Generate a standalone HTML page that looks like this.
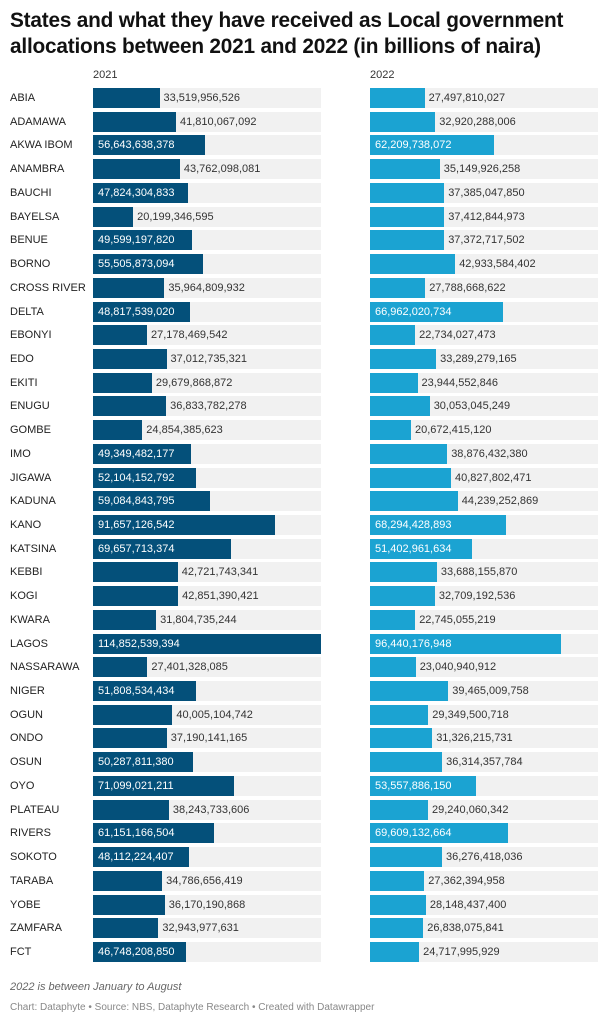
<!DOCTYPE html>
<html><head><meta charset="utf-8"><style>
*{margin:0;padding:0;box-sizing:border-box}
body{width:614px;height:1024px;background:#fff;font-family:"Liberation Sans",sans-serif;position:relative;overflow:hidden;color:#333}
h1{position:absolute;left:10px;top:8px;font-size:20.8px;line-height:26px;color:#111;font-weight:bold;letter-spacing:-0.2px}
.yr{position:absolute;top:69px;font-size:11px;color:#333}
.r{position:absolute;left:0;height:20px;width:614px}
.l{position:absolute;left:10px;top:4px;font-size:11px;color:#222}
.c{position:absolute;top:0;height:20px;width:228px;background:#f1f1f1;display:flex;align-items:center}
.c1{left:93px}.c2{left:370px}
.b{height:20px;display:flex;align-items:center;flex:none}
.c1 .b{background:#04507a}.c2 .b{background:#1ba3d2}
.c span{font-size:11px;color:#333;margin-left:4px;white-space:nowrap}
.b span{color:#fff!important;margin-left:5px!important}
.f1{position:absolute;left:10px;top:981px;font-size:11px;font-style:italic;color:#666}
.f2{position:absolute;left:10px;top:1002px;font-size:10px;color:#888}
</style></head><body>
<h1>States and what they have received as Local government<br>allocations between 2021 and 2022 (in billions of naira)</h1>
<div class="yr" style="left:93px">2021</div>
<div class="yr" style="left:370px">2022</div>

<div class="r" style="top:88px"><div class="l">ABIA</div><div class="c c1"><div class="b" style="width:66.5px"></div><span>33,519,956,526</span></div><div class="c c2"><div class="b" style="width:54.6px"></div><span>27,497,810,027</span></div></div>
<div class="r" style="top:111.7px"><div class="l">ADAMAWA</div><div class="c c1"><div class="b" style="width:83px"></div><span>41,810,067,092</span></div><div class="c c2"><div class="b" style="width:65.3px"></div><span>32,920,288,006</span></div></div>
<div class="r" style="top:135.4px"><div class="l">AKWA IBOM</div><div class="c c1"><div class="b" style="width:112.4px"><span>56,643,638,378</span></div></div><div class="c c2"><div class="b" style="width:123.5px"><span>62,209,738,072</span></div></div></div>
<div class="r" style="top:159.2px"><div class="l">ANAMBRA</div><div class="c c1"><div class="b" style="width:86.9px"></div><span>43,762,098,081</span></div><div class="c c2"><div class="b" style="width:69.8px"></div><span>35,149,926,258</span></div></div>
<div class="r" style="top:182.9px"><div class="l">BAUCHI</div><div class="c c1"><div class="b" style="width:94.9px"><span>47,824,304,833</span></div></div><div class="c c2"><div class="b" style="width:74.2px"></div><span>37,385,047,850</span></div></div>
<div class="r" style="top:206.6px"><div class="l">BAYELSA</div><div class="c c1"><div class="b" style="width:40.1px"></div><span>20,199,346,595</span></div><div class="c c2"><div class="b" style="width:74.3px"></div><span>37,412,844,973</span></div></div>
<div class="r" style="top:230.3px"><div class="l">BENUE</div><div class="c c1"><div class="b" style="width:98.5px"><span>49,599,197,820</span></div></div><div class="c c2"><div class="b" style="width:74.2px"></div><span>37,372,717,502</span></div></div>
<div class="r" style="top:254px"><div class="l">BORNO</div><div class="c c1"><div class="b" style="width:110.2px"><span>55,505,873,094</span></div></div><div class="c c2"><div class="b" style="width:85.2px"></div><span>42,933,584,402</span></div></div>
<div class="r" style="top:277.8px"><div class="l">CROSS RIVER</div><div class="c c1"><div class="b" style="width:71.4px"></div><span>35,964,809,932</span></div><div class="c c2"><div class="b" style="width:55.2px"></div><span>27,788,668,622</span></div></div>
<div class="r" style="top:301.5px"><div class="l">DELTA</div><div class="c c1"><div class="b" style="width:96.9px"><span>48,817,539,020</span></div></div><div class="c c2"><div class="b" style="width:132.9px"><span>66,962,020,734</span></div></div></div>
<div class="r" style="top:325.2px"><div class="l">EBONYI</div><div class="c c1"><div class="b" style="width:54px"></div><span>27,178,469,542</span></div><div class="c c2"><div class="b" style="width:45.1px"></div><span>22,734,027,473</span></div></div>
<div class="r" style="top:348.9px"><div class="l">EDO</div><div class="c c1"><div class="b" style="width:73.5px"></div><span>37,012,735,321</span></div><div class="c c2"><div class="b" style="width:66.1px"></div><span>33,289,279,165</span></div></div>
<div class="r" style="top:372.6px"><div class="l">EKITI</div><div class="c c1"><div class="b" style="width:58.9px"></div><span>29,679,868,872</span></div><div class="c c2"><div class="b" style="width:47.5px"></div><span>23,944,552,846</span></div></div>
<div class="r" style="top:396.4px"><div class="l">ENUGU</div><div class="c c1"><div class="b" style="width:73.1px"></div><span>36,833,782,278</span></div><div class="c c2"><div class="b" style="width:59.7px"></div><span>30,053,045,249</span></div></div>
<div class="r" style="top:420.1px"><div class="l">GOMBE</div><div class="c c1"><div class="b" style="width:49.3px"></div><span>24,854,385,623</span></div><div class="c c2"><div class="b" style="width:41px"></div><span>20,672,415,120</span></div></div>
<div class="r" style="top:443.8px"><div class="l">IMO</div><div class="c c1"><div class="b" style="width:98px"><span>49,349,482,177</span></div></div><div class="c c2"><div class="b" style="width:77.2px"></div><span>38,876,432,380</span></div></div>
<div class="r" style="top:467.5px"><div class="l">JIGAWA</div><div class="c c1"><div class="b" style="width:103.4px"><span>52,104,152,792</span></div></div><div class="c c2"><div class="b" style="width:81px"></div><span>40,827,802,471</span></div></div>
<div class="r" style="top:491.2px"><div class="l">KADUNA</div><div class="c c1"><div class="b" style="width:117.3px"><span>59,084,843,795</span></div></div><div class="c c2"><div class="b" style="width:87.8px"></div><span>44,239,252,869</span></div></div>
<div class="r" style="top:515px"><div class="l">KANO</div><div class="c c1"><div class="b" style="width:181.9px"><span>91,657,126,542</span></div></div><div class="c c2"><div class="b" style="width:135.6px"><span>68,294,428,893</span></div></div></div>
<div class="r" style="top:538.7px"><div class="l">KATSINA</div><div class="c c1"><div class="b" style="width:138.3px"><span>69,657,713,374</span></div></div><div class="c c2"><div class="b" style="width:102px"><span>51,402,961,634</span></div></div></div>
<div class="r" style="top:562.4px"><div class="l">KEBBI</div><div class="c c1"><div class="b" style="width:84.8px"></div><span>42,721,743,341</span></div><div class="c c2"><div class="b" style="width:66.9px"></div><span>33,688,155,870</span></div></div>
<div class="r" style="top:586.1px"><div class="l">KOGI</div><div class="c c1"><div class="b" style="width:85.1px"></div><span>42,851,390,421</span></div><div class="c c2"><div class="b" style="width:64.9px"></div><span>32,709,192,536</span></div></div>
<div class="r" style="top:609.8px"><div class="l">KWARA</div><div class="c c1"><div class="b" style="width:63.1px"></div><span>31,804,735,244</span></div><div class="c c2"><div class="b" style="width:45.2px"></div><span>22,745,055,219</span></div></div>
<div class="r" style="top:633.6px"><div class="l">LAGOS</div><div class="c c1"><div class="b" style="width:228px"><span>114,852,539,394</span></div></div><div class="c c2"><div class="b" style="width:191.4px"><span>96,440,176,948</span></div></div></div>
<div class="r" style="top:657.3px"><div class="l">NASSARAWA</div><div class="c c1"><div class="b" style="width:54.4px"></div><span>27,401,328,085</span></div><div class="c c2"><div class="b" style="width:45.7px"></div><span>23,040,940,912</span></div></div>
<div class="r" style="top:681px"><div class="l">NIGER</div><div class="c c1"><div class="b" style="width:102.8px"><span>51,808,534,434</span></div></div><div class="c c2"><div class="b" style="width:78.3px"></div><span>39,465,009,758</span></div></div>
<div class="r" style="top:704.7px"><div class="l">OGUN</div><div class="c c1"><div class="b" style="width:79.4px"></div><span>40,005,104,742</span></div><div class="c c2"><div class="b" style="width:58.3px"></div><span>29,349,500,718</span></div></div>
<div class="r" style="top:728.4px"><div class="l">ONDO</div><div class="c c1"><div class="b" style="width:73.8px"></div><span>37,190,141,165</span></div><div class="c c2"><div class="b" style="width:62.2px"></div><span>31,326,215,731</span></div></div>
<div class="r" style="top:752.2px"><div class="l">OSUN</div><div class="c c1"><div class="b" style="width:99.8px"><span>50,287,811,380</span></div></div><div class="c c2"><div class="b" style="width:72.1px"></div><span>36,314,357,784</span></div></div>
<div class="r" style="top:775.9px"><div class="l">OYO</div><div class="c c1"><div class="b" style="width:141.1px"><span>71,099,021,211</span></div></div><div class="c c2"><div class="b" style="width:106.3px"><span>53,557,886,150</span></div></div></div>
<div class="r" style="top:799.6px"><div class="l">PLATEAU</div><div class="c c1"><div class="b" style="width:75.9px"></div><span>38,243,733,606</span></div><div class="c c2"><div class="b" style="width:58px"></div><span>29,240,060,342</span></div></div>
<div class="r" style="top:823.3px"><div class="l">RIVERS</div><div class="c c1"><div class="b" style="width:121.4px"><span>61,151,166,504</span></div></div><div class="c c2"><div class="b" style="width:138.2px"><span>69,609,132,664</span></div></div></div>
<div class="r" style="top:847px"><div class="l">SOKOTO</div><div class="c c1"><div class="b" style="width:95.5px"><span>48,112,224,407</span></div></div><div class="c c2"><div class="b" style="width:72px"></div><span>36,276,418,036</span></div></div>
<div class="r" style="top:870.8px"><div class="l">TARABA</div><div class="c c1"><div class="b" style="width:69.1px"></div><span>34,786,656,419</span></div><div class="c c2"><div class="b" style="width:54.3px"></div><span>27,362,394,958</span></div></div>
<div class="r" style="top:894.5px"><div class="l">YOBE</div><div class="c c1"><div class="b" style="width:71.8px"></div><span>36,170,190,868</span></div><div class="c c2"><div class="b" style="width:55.9px"></div><span>28,148,437,400</span></div></div>
<div class="r" style="top:918.2px"><div class="l">ZAMFARA</div><div class="c c1"><div class="b" style="width:65.4px"></div><span>32,943,977,631</span></div><div class="c c2"><div class="b" style="width:53.3px"></div><span>26,838,075,841</span></div></div>
<div class="r" style="top:941.9px"><div class="l">FCT</div><div class="c c1"><div class="b" style="width:92.8px"><span>46,748,208,850</span></div></div><div class="c c2"><div class="b" style="width:49.1px"></div><span>24,717,995,929</span></div></div>

<div class="f1">2022 is between January to August</div>
<div class="f2">Chart: Dataphyte • Source: NBS, Dataphyte Research • Created with Datawrapper</div>
</body></html>
